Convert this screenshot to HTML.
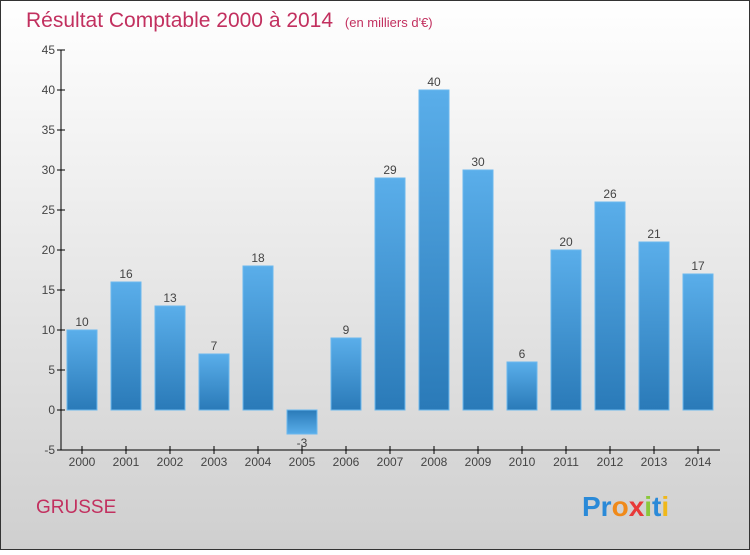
<!DOCTYPE html>
<html><head><meta charset="utf-8"><style>
body{margin:0;width:750px;height:550px;overflow:hidden;font-family:"Liberation Sans",sans-serif}
</style></head><body>
<svg width="750" height="550" xmlns="http://www.w3.org/2000/svg">
<defs>
<linearGradient id="bg" x1="0" y1="0" x2="0" y2="1"><stop offset="0" stop-color="#ffffff"/><stop offset="1" stop-color="#cfcfcf"/></linearGradient>
<linearGradient id="bar" x1="0" y1="0" x2="0" y2="1"><stop offset="0" stop-color="#5aaeea"/><stop offset="1" stop-color="#2a7ab8"/></linearGradient>
<linearGradient id="barn" x1="0" y1="0" x2="0" y2="1"><stop offset="0" stop-color="#2a7ab8"/><stop offset="1" stop-color="#5aaeea"/></linearGradient>
</defs>
<rect x="0.5" y="0.5" width="749" height="549" fill="url(#bg)" stroke="#333"/>
<text x="26" y="27" font-size="21" fill="#c2305f">Résultat Comptable 2000 à 2014 <tspan font-size="13" dx="6">(en milliers d'€)</tspan></text>
<g id="axes"></g><g id="bars"></g>
<text x="36" y="513" font-size="19" fill="#c2305f">GRUSSE</text>
<text x="582" y="516" font-size="28" font-weight="bold"><tspan fill="#2a8ad8">Pr</tspan><tspan fill="#f08a1a">o</tspan><tspan fill="#e83a3a">x</tspan><tspan fill="#8ac83a">i</tspan><tspan fill="#2a8ad8">t</tspan><tspan fill="#f0b81a">i</tspan></text>
</svg>
<script>
const years=["2000","2001","2002","2003","2004","2005","2006","2007","2008","2009","2010","2011","2012","2013","2014"];
const values=[10,16,13,7,18,-3,9,29,40,30,6,20,26,21,17];
const yTicks=[-5,0,5,10,15,20,25,30,35,40,45];
const NS="http://www.w3.org/2000/svg";
const y=v=>410-v*8, x=i=>82+i*44;
function mk(t,a,p,txt){const e=document.createElementNS(NS,t);for(const k in a)e.setAttribute(k,a[k]);if(txt!==undefined)e.textContent=txt;p.appendChild(e);return e;}
const ax=document.getElementById('axes'),bg=document.getElementById('bars');
let l=mk('line',{x1:61,y1:y(45),x2:61,y2:y(-5),stroke:'#000'},ax);


l=mk('line',{x1:61,y1:y(-5),x2:720,y2:y(-5),stroke:'#000'},ax);


yTicks.forEach(v=>{
 mk('line',{x1:57,y1:y(v),x2:65,y2:y(v),stroke:'#000'},ax);
 const t=mk('text',{x:55,y:y(v)+4,'font-size':12,fill:'#444','text-anchor':'end'},ax,v);
 
 
});
years.forEach((yr,i)=>{
 const v=values[i];
 mk('line',{x1:x(i),y1:y(-5)-4,x2:x(i),y2:y(-5)+4,stroke:'#000'},ax);
 const t=mk('text',{x:x(i),y:466,'font-size':12,fill:'#444','text-anchor':'middle'},ax,yr);
 
 
 const top=Math.min(y(v),y(0)),h=Math.abs(y(v)-y(0));
 const r=mk('rect',{x:x(i)-15,y:top,width:30,height:h,fill:v<0?'url(#barn)':'url(#bar)',stroke:'#6bb8ee','stroke-width':1},bg);
 
 
 const lb=mk('text',{x:x(i),y:v<0?y(v)+13:y(v)-4,'font-size':12,fill:'#444','text-anchor':'middle'},bg,v);
 
 
});
</script>
</body></html>
